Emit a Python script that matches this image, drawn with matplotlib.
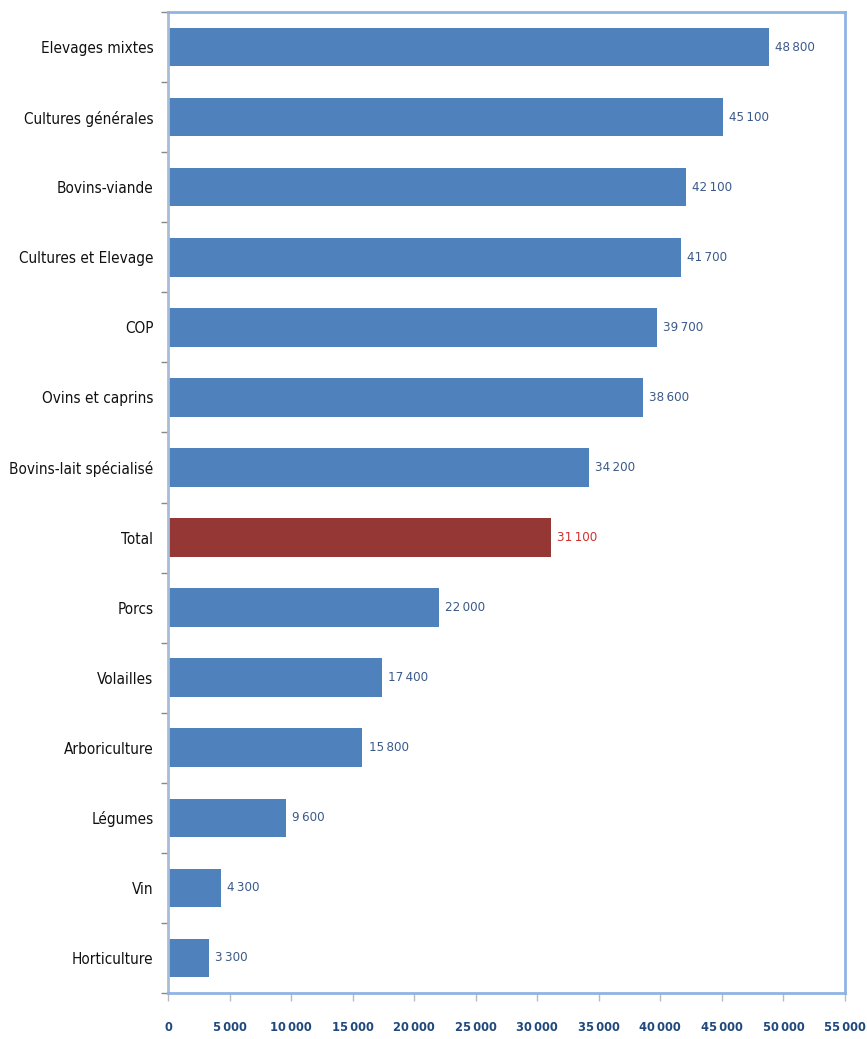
import matplotlib
matplotlib.use("Agg")
import matplotlib.pyplot as plt
from matplotlib.ticker import FuncFormatter, MultipleLocator

plt.rcParams['font.family'] = ['DejaVu Sans']
plt.rcParams['font.stretch'] = 'condensed'

categories = ["Elevages mixtes", "Cultures générales", "Bovins-viande", "Cultures et Elevage",
              "COP", "Ovins et caprins", "Bovins-lait spécialisé", "Total", "Porcs",
              "Volailles", "Arboriculture", "Légumes", "Vin", "Horticulture"]
values = [48800, 45100, 42100, 41700, 39700, 38600, 34200, 31100, 22000,
          17400, 15800, 9600, 4300, 3300]
highlight = "Total"

BLUE = "#4F81BD"
RED = "#953735"
TXT_BLUE = "#1F497D"

fig = plt.figure(figsize=(8.67, 10.39), dpi=100)
ax = fig.add_axes([168/867, 1 - 993/1039, (845-168)/867, (993-12)/1039])

n = len(categories)
ypos = list(range(n))
colors = [RED if c == highlight else BLUE for c in categories]
ax.barh(ypos, values, height=0.55, color=colors, edgecolor='none', zorder=2)
ax.set_ylim(n - 0.5, -0.5)
ax.set_xlim(0, 55000)

def fmt(v):
    return f"{int(v):,}".replace(",", "\u2009")

for y, v, c in zip(ypos, values, categories):
    ax.text(v + 500, y, fmt(v), va='center', ha='left', fontsize=9.5,
            fontstretch='condensed',
            color="#D03030" if c == highlight else "#3B5A8A")

ax.set_yticks(ypos)
ax.set_yticklabels(categories, fontsize=11, color="#111111", fontstretch='condensed')
ax.set_yticks([i - 0.5 for i in range(n + 1)], minor=True)
ax.tick_params(axis='y', which='major', length=0, pad=10.5)
ax.tick_params(axis='y', which='minor', length=5, color="#888888", width=1)

ax.xaxis.set_major_locator(MultipleLocator(5000))
ax.xaxis.set_major_formatter(FuncFormatter(lambda v, p: fmt(v)))
ax.tick_params(axis='x', length=6, color="#BBBBBB", width=1, pad=14,
               labelsize=9.2, labelcolor=TXT_BLUE)
for lab in ax.get_xticklabels():
    lab.set_fontweight('bold')
    lab.set_fontstretch('condensed')

for side in ['top', 'right', 'bottom']:
    ax.spines[side].set_color("#8EB4E3")
    ax.spines[side].set_linewidth(2)
ax.spines['left'].set_color("#A7BCD6")
ax.spines['left'].set_linewidth(2)

fig.savefig("out.png", dpi=100)
